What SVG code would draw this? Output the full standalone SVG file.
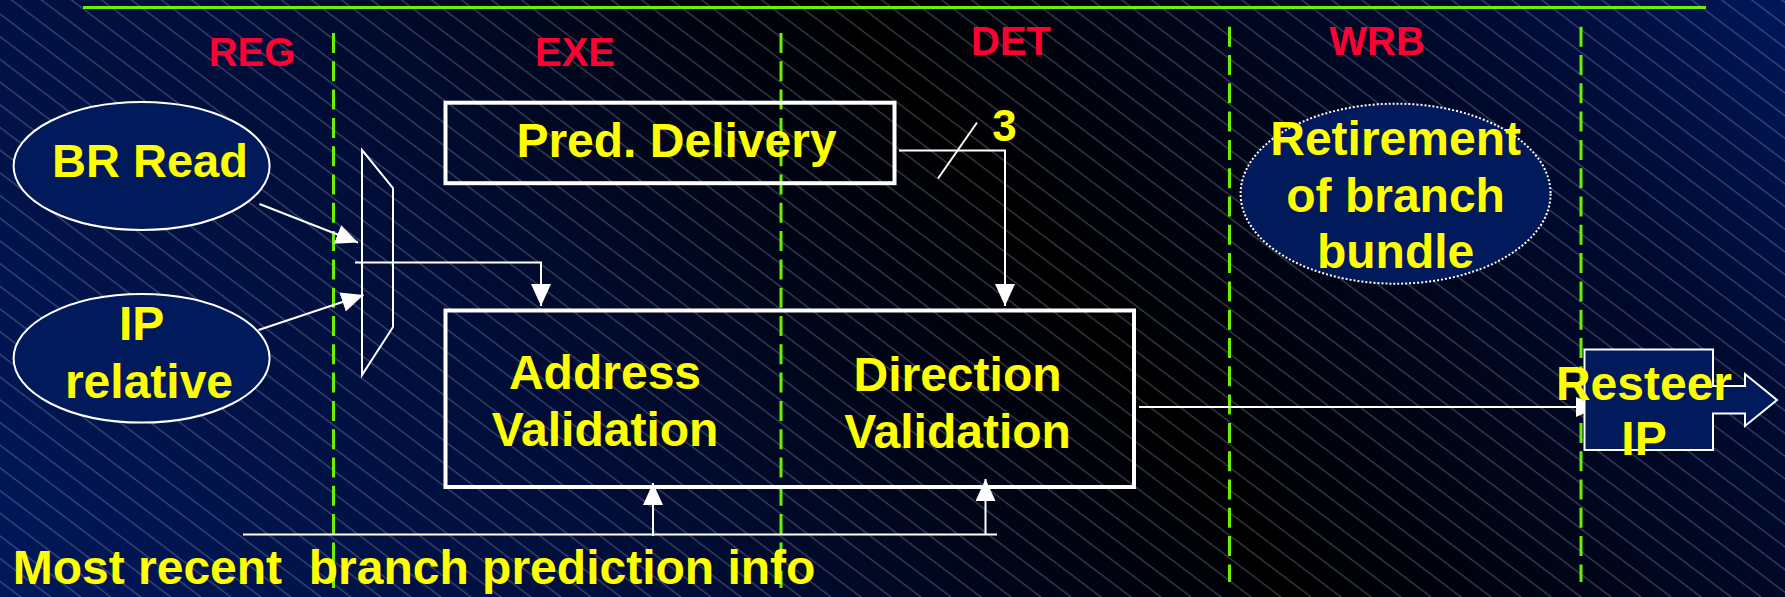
<svg xmlns="http://www.w3.org/2000/svg" width="1785" height="597" viewBox="0 0 1785 597">
  <defs>
    <!-- navy → black → navy sweep across the slide -->
    <linearGradient id="bg" gradientUnits="userSpaceOnUse" x1="0" y1="597" x2="1429" y2="-475">
      <stop offset="0" stop-color="#00185a"/>
      <stop offset="0.3" stop-color="#000d38"/>
      <stop offset="0.58" stop-color="#000000"/>
      <stop offset="0.85" stop-color="#000a30"/>
      <stop offset="1" stop-color="#00175a"/>
    </linearGradient>
    <!-- fine diagonal hatching -->
    <pattern id="hatch" patternUnits="userSpaceOnUse" width="20" height="18.1" patternTransform="rotate(37.1)">
      <line x1="-1" y1="11.2" x2="21" y2="11.2" stroke="#a8b0c8" stroke-opacity="0.5" stroke-width="0.9"/>
    </pattern>
    <marker id="head" markerUnits="userSpaceOnUse" viewBox="0 0 22 20" refX="22" refY="10" markerWidth="22" markerHeight="20" orient="auto">
      <path d="M0,0 L22,10 L0,20 Z" fill="#ffffff"/>
    </marker>
  </defs>
  <style>
    .stage { font-family: "Liberation Sans", Arial, sans-serif; font-weight: bold; font-size: 40px; fill: #ff0033; text-anchor: middle; }
    .lbl { font-family: "Liberation Sans", Arial, sans-serif; font-weight: bold; font-size: 48px; fill: #ffff00; text-anchor: middle; }
    .wire { stroke: #ffffff; stroke-width: 2; fill: none; }
    .arrow { marker-end: url(#head); }
    .lane { stroke: #6cf000; stroke-width: 3; stroke-dasharray: 20 8.3; fill: none; }
    .box { stroke: #ffffff; stroke-width: 4; fill: none; }
    .bubble { stroke: #ffffff; stroke-width: 2; fill: #001a5c; }
  </style>

  <!-- background -->
  <rect width="1785" height="597" fill="url(#bg)"/>
  <rect width="1785" height="597" fill="url(#hatch)"/>

  <!-- pipeline stage boundaries -->
  <g id="stages">
    <line x1="83" y1="7.5" x2="1706" y2="7.5" stroke="#6cf000" stroke-width="3"/>
    <line class="lane" x1="333.5" y1="33" x2="333.5" y2="588"/>
    <line class="lane" x1="781" y1="33" x2="781" y2="588"/>
    <line class="lane" x1="1229.5" y1="26.7" x2="1229.5" y2="582"/>
    <line class="lane" x1="1581" y1="26.7" x2="1581" y2="582"/>
    <text class="stage" x="252" y="65.5">REG</text>
    <text class="stage" x="575" y="65.5">EXE</text>
    <text class="stage" x="1011" y="55">DET</text>
    <text class="stage" x="1377" y="55">WRB</text>
  </g>

  <!-- connectors -->
  <g id="connectors">
    <line class="wire arrow" x1="259.5" y1="204" x2="358" y2="242.5"/>
    <line class="wire arrow" x1="258.5" y1="330" x2="363.5" y2="295"/>
    <polyline class="wire arrow" points="355,262.5 541,262.5 541,306"/>
    <polyline class="wire arrow" points="899,150.5 1005,150.5 1005,306"/>
    <line class="wire" x1="938" y1="178.5" x2="977" y2="122.5"/>
    <line class="wire" x1="243" y1="534.5" x2="997" y2="534.5"/>
    <line class="wire arrow" x1="653" y1="536" x2="653" y2="483"/>
    <line class="wire arrow" x1="985.5" y1="534" x2="985.5" y2="479"/>
    <line class="wire arrow" x1="1139" y1="407" x2="1598" y2="407"/>
    <text x="1004.5" y="141" style="font-family:'Liberation Sans',Arial,sans-serif;font-weight:bold;font-size:44px;fill:#ffff00;text-anchor:middle">3</text>
  </g>

  <g id="br-read">
    <ellipse class="bubble" cx="141.6" cy="166" rx="128" ry="64"/>
    <text class="lbl" x="150" y="177" style="font-size:47px">BR Read</text>
  </g>

  <g id="ip-relative">
    <ellipse class="bubble" cx="141.6" cy="358.3" rx="128" ry="64.3"/>
    <text class="lbl" x="141.6" y="340">IP</text>
    <text class="lbl" x="149" y="398">relative</text>
  </g>

  <g id="mux">
    <polygon points="362,150 393,188 393,327 362,375" fill="none" stroke="#ffffff" stroke-width="2"/>
  </g>

  <g id="pred-delivery">
    <rect class="box" x="445.5" y="102.7" width="449" height="80.5"/>
    <text class="lbl" x="676.5" y="157">Pred. Delivery</text>
  </g>

  <g id="validation">
    <rect class="box" x="445.5" y="310.5" width="688.5" height="176.5"/>
    <text class="lbl" x="605" y="389">Address</text>
    <text class="lbl" x="605" y="445.5">Validation</text>
    <text class="lbl" x="957.5" y="390.5">Direction</text>
    <text class="lbl" x="957.5" y="448">Validation</text>
  </g>

  <g id="retirement">
    <ellipse cx="1395.6" cy="193.7" rx="155" ry="90" fill="#001a5c" stroke="#ffffff" stroke-width="2" stroke-dasharray="2 2"/>
    <text class="lbl" x="1395.6" y="155">Retirement</text>
    <text class="lbl" x="1395.6" y="212">of branch</text>
    <text class="lbl" x="1395.6" y="268">bundle</text>
  </g>

  <g id="resteer-ip">
    <path d="M1584.5,349.5 H1713 V386 H1745 V374 L1777,400 L1745,426 V413.5 H1713 V450 H1584.5 Z" fill="#001a5c" stroke="#ffffff" stroke-width="2"/>
    <text class="lbl" x="1644" y="400">Resteer</text>
    <text class="lbl" x="1644" y="455">IP</text>
  </g>

  <g id="history-label">
    <text class="lbl" x="12.7" y="583.5" style="text-anchor:start" xml:space="preserve">Most recent  branch prediction info</text>
  </g>
</svg>
